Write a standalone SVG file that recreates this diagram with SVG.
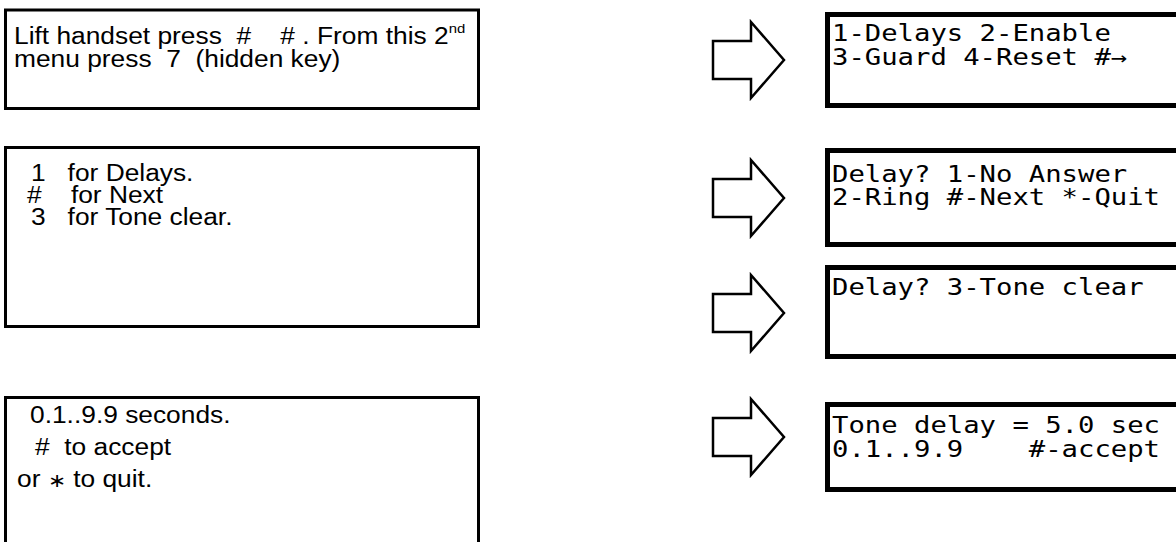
<svg xmlns="http://www.w3.org/2000/svg" width="1176" height="542" viewBox="0 0 1176 542">
<style>
.lbox{fill:#fff;stroke:#000;stroke-width:3}
.rbox{fill:#fff;stroke:#000;stroke-width:5}
.arrow{fill:#fff;stroke:#000;stroke-width:2.5;stroke-linejoin:miter}
.lt{font-family:"Liberation Sans",Arial,sans-serif;font-size:23px;fill:#000;white-space:pre}
.mt{font-family:"DejaVu Sans Mono",monospace;font-size:23px;fill:#000;white-space:pre}
.sup{font-size:13px}
</style>
<rect width="1176" height="542" fill="#fff"/>
<g id="connectors">
<polygon class="arrow" points="713,41 751,41 751,22 784,60 751,98 751,79 713,79"/>
<polygon class="arrow" points="713,179 751,179 751,160 784,198 751,236 751,217 713,217"/>
<polygon class="arrow" points="713,294 751,294 751,275 784,313 751,351 751,332 713,332"/>
<polygon class="arrow" points="713,418 751,418 751,399 784,437 751,475 751,456 713,456"/>
</g>
<g id="note1">
<rect class="lbox" x="5.5" y="10" width="473" height="98.5"/>
<text class="lt" xml:space="preserve" transform="translate(14,44) scale(1.145,1)">Lift handset press  #    # . From this 2<tspan class="sup" dy="-11">nd</tspan></text>
<text class="lt" xml:space="preserve" transform="translate(14,67) scale(1.145,1)">menu press  7  (hidden key)</text>
</g>
<g id="note2">
<rect class="lbox" x="5.5" y="147.5" width="473" height="179"/>
<text class="lt" xml:space="preserve" transform="translate(31,181) scale(1.145,1)">1   for Delays.</text>
<text class="lt" xml:space="preserve" transform="translate(27,203) scale(1.145,1)">#    for Next</text>
<text class="lt" xml:space="preserve" transform="translate(31,225) scale(1.145,1)">3   for Tone clear.</text>
</g>
<g id="note3">
<rect class="lbox" x="5.5" y="397.5" width="473" height="170"/>
<text class="lt" xml:space="preserve" transform="translate(30,423) scale(1.145,1)">0.1..9.9 seconds.</text>
<text class="lt" xml:space="preserve" transform="translate(35,455) scale(1.145,1)">#  to accept</text>
<text class="lt" xml:space="preserve" transform="translate(17,487) scale(1.145,1)">or <tspan font-size="19">∗</tspan> to quit.</text>
</g>
<g id="screen1">
<rect class="rbox" x="827.5" y="14.5" width="400" height="91"/>
<text class="mt" xml:space="preserve" transform="translate(832,41) scale(1.185,1)">1-Delays 2-Enable</text>
<text class="mt" xml:space="preserve" transform="translate(832,64.5) scale(1.185,1)">3-Guard 4-Reset #→</text>
</g>
<g id="screen2">
<rect class="rbox" x="827.5" y="150.5" width="400" height="94"/>
<text class="mt" xml:space="preserve" transform="translate(832,182) scale(1.185,1)">Delay? 1-No Answer</text>
<text class="mt" xml:space="preserve" transform="translate(832,205) scale(1.185,1)">2-Ring #-Next *-Quit</text>
</g>
<g id="screen3">
<rect class="rbox" x="827.5" y="267.5" width="400" height="89"/>
<text class="mt" xml:space="preserve" transform="translate(832,295) scale(1.185,1)">Delay? 3-Tone clear</text>
</g>
<g id="screen4">
<rect class="rbox" x="827.5" y="404.5" width="400" height="85"/>
<text class="mt" xml:space="preserve" transform="translate(832,433) scale(1.185,1)">Tone delay = 5.0 sec</text>
<text class="mt" xml:space="preserve" transform="translate(832,457) scale(1.185,1)">0.1..9.9    #-accept</text>
</g>
</svg>
